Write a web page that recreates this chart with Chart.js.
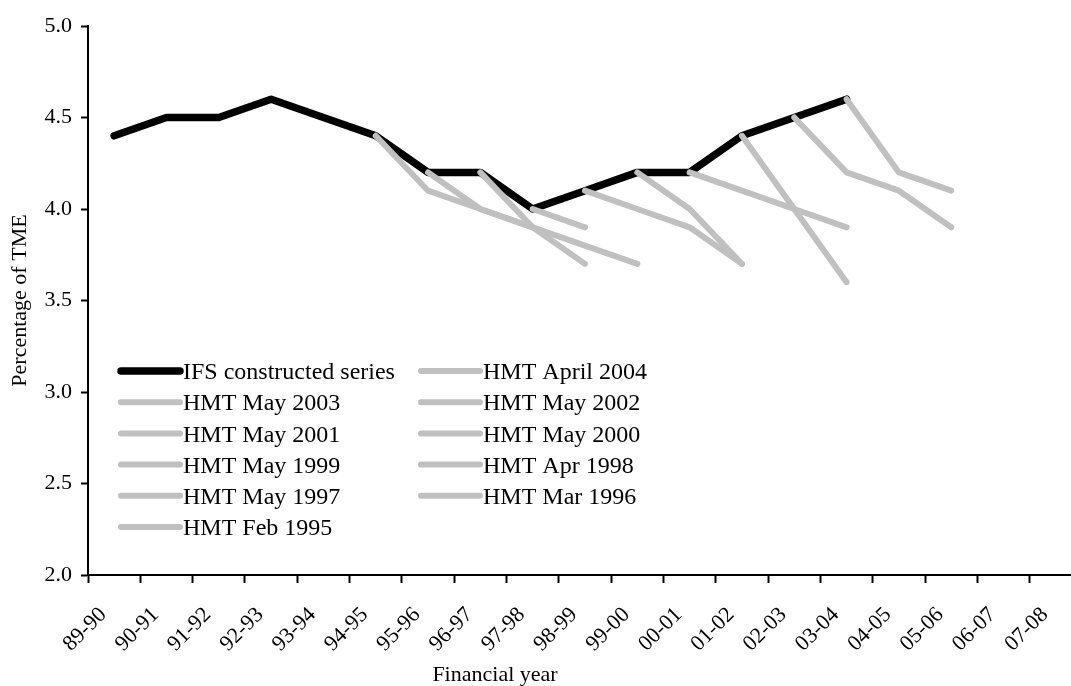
<!DOCTYPE html>
<html>
<head>
<meta charset="utf-8">
<script src="https://cdn.jsdelivr.net/npm/chart.js@4/dist/chart.umd.min.js"></script>
<style>
  html, body { margin: 0; padding: 0; background: #fff; overflow: hidden; }
  #wrap { position: relative; width: 1082px; height: 686px; }
</style>
</head>
<body>
<div id="wrap"><canvas id="chart"></canvas></div>
<script>
const years = ["89-90", "90-91", "91-92", "92-93", "93-94", "94-95", "95-96", "96-97", "97-98", "98-99",
  "99-00", "00-01", "01-02", "02-03", "03-04", "04-05", "05-06", "06-07", "07-08"];

const yTicks = [2.0, 2.5, 3.0, 3.5, 4.0, 4.5, 5.0];

//                89-90 90-91 91-92 92-93 93-94 94-95 95-96 96-97 97-98 98-99 99-00 00-01 01-02 02-03 03-04 04-05 05-06 06-07 07-08
const ifsSeries  = [4.4,  4.5,  4.5,  4.6,  4.5,  4.4,  4.2,  4.2,  4.0,  4.1,  4.2,  4.2,  4.4,  4.5,  4.6,  null, null, null, null];
const hmtApr2004 = [null, null, null, null, null, null, null, null, null, null, null, null, null, null, 4.6,  4.2,  4.1,  null, null];
const hmtMay2003 = [null, null, null, null, null, null, null, null, null, null, null, null, null, 4.5,  4.2,  4.1,  3.9,  null, null];
const hmtMay2002 = [null, null, null, null, null, null, null, null, null, null, null, null, 4.4,  4.0,  3.6,  null, null, null, null];
const hmtMay2001 = [null, null, null, null, null, null, null, null, null, null, null, 4.2,  4.1,  4.0,  3.9,  null, null, null, null];
const hmtMay2000 = [null, null, null, null, null, null, null, null, null, null, 4.2,  4.0,  3.7,  null, null, null, null, null, null];
const hmtMay1999 = [null, null, null, null, null, null, null, null, null, 4.1,  4.0,  3.9,  3.7,  null, null, null, null, null, null];
const hmtApr1998 = [null, null, null, null, null, null, null, null, 4.0,  3.9,  null, null, null, null, null, null, null, null, null];
const hmtMay1997 = [null, null, null, null, null, null, null, 4.2,  3.9,  3.7,  null, null, null, null, null, null, null, null, null];
const hmtMar1996 = [null, null, null, null, null, null, 4.2,  4.0,  3.9,  3.8,  3.7,  null, null, null, null, null, null, null, null];
const hmtFeb1995 = [null, null, null, null, null, 4.4,  4.1,  4.0,  3.9,  null, null, null, null, null, null, null, null, null, null];

const seriesLabels = ["IFS constructed series", "HMT April 2004", "HMT May 2003", "HMT May 2002", "HMT May 2001",
  "HMT May 2000", "HMT May 1999", "HMT Apr 1998", "HMT May 1997", "HMT Mar 1996", "HMT Feb 1995"];
const seriesData = [ifsSeries, hmtApr2004, hmtMay2003, hmtMay2002, hmtMay2001,
  hmtMay2000, hmtMay1999, hmtApr1998, hmtMay1997, hmtMar1996, hmtFeb1995];

const FONT = "'Liberation Serif', 'Times New Roman', serif";
const GREY = "#c0c0c0";

const datasets = seriesData.map((data, i) => ({
  label: seriesLabels[i],
  data: data,
  borderColor: i === 0 ? "#000" : GREY,
  borderWidth: i === 0 ? 7.5 : 6,
  borderCapStyle: "round",
  borderJoinStyle: "round",
  pointRadius: 0,
  tension: 0,
  fill: false,
  order: i === 0 ? 1 : 0, // grey forecasts drawn over the black series
}));

// two-column legend inside the plot, plus the x axis title
const legendPlugin = {
  id: "boxLegend",
  afterDraw(chart) {
    const { ctx, chartArea } = chart;
    const x0 = chartArea.left + 33;
    const y0 = 371;
    const rowH = 31.2;
    const colW = 300;
    ctx.save();
    ctx.font = "24px " + FONT;
    ctx.textBaseline = "middle";
    ctx.textAlign = "left";
    ctx.lineCap = "round";
    chart.data.datasets.forEach((ds, i) => {
      const col = i % 2;
      const row = Math.floor(i / 2);
      const x = x0 + col * colW;
      const y = y0 + row * rowH;
      ctx.strokeStyle = ds.borderColor;
      ctx.lineWidth = ds.borderWidth;
      ctx.beginPath();
      ctx.moveTo(x, y);
      ctx.lineTo(x + 59, y);
      ctx.stroke();
      ctx.fillStyle = "#000";
      ctx.fillText(ds.label, x + 62, y + 2);
    });

    ctx.font = "22px " + FONT;
    ctx.textAlign = "center";
    ctx.textBaseline = "alphabetic";
    ctx.fillText("Financial year", 495, 681);
    ctx.restore();
  },
};

new Chart(document.getElementById("chart"), {
  type: "line",
  data: {
    labels: years,
    datasets: datasets,
  },
  options: {
    responsive: true,
    maintainAspectRatio: false,
    animation: false,
    layout: {
      padding: { top: 26, left: 0, right: 0, bottom: 0 },
    },
    plugins: {
      legend: { display: false },
      tooltip: { enabled: false },
    },
    scales: {
      x: {
        type: "category",
        offset: true,
        afterFit(scale) {
          scale.height = 111;
          scale.paddingLeft = 0;
          scale.paddingRight = 0;
        },
        grid: {
          offset: true,
          drawOnChartArea: false,
          drawTicks: true,
          tickLength: 8,
          tickColor: "#000",
          tickWidth: 2,
        },
        border: { display: true, color: "#000", width: 2 },
        ticks: {
          color: "#000",
          font: { family: FONT, size: 22 },
          minRotation: 45,
          maxRotation: 45,
          autoSkip: false,
          padding: 19,
          labelOffset: -11,
        },
      },
      y: {
        min: 2,
        max: 5,
        afterFit(scale) {
          scale.width = 88;
          scale.paddingTop = 0;
          scale.paddingBottom = 0;
        },
        afterBuildTicks(scale) {
          scale.ticks = yTicks.map((v) => ({ value: v }));
        },
        grid: {
          drawOnChartArea: false,
          drawTicks: true,
          tickLength: 7,
          tickColor: "#000",
          tickWidth: 2,
        },
        border: { display: true, color: "#000", width: 2 },
        ticks: {
          color: "#000",
          font: { family: FONT, size: 22 },
          padding: 9,
          callback: (v) => Number(v).toFixed(1),
        },
        title: {
          display: true,
          text: "Percentage of TME",
          color: "#000",
          font: { family: FONT, size: 22 },
          padding: { top: 7, bottom: 0 },
        },
      },
    },
  },
  plugins: [legendPlugin],
});
</script>
</body>
</html>
